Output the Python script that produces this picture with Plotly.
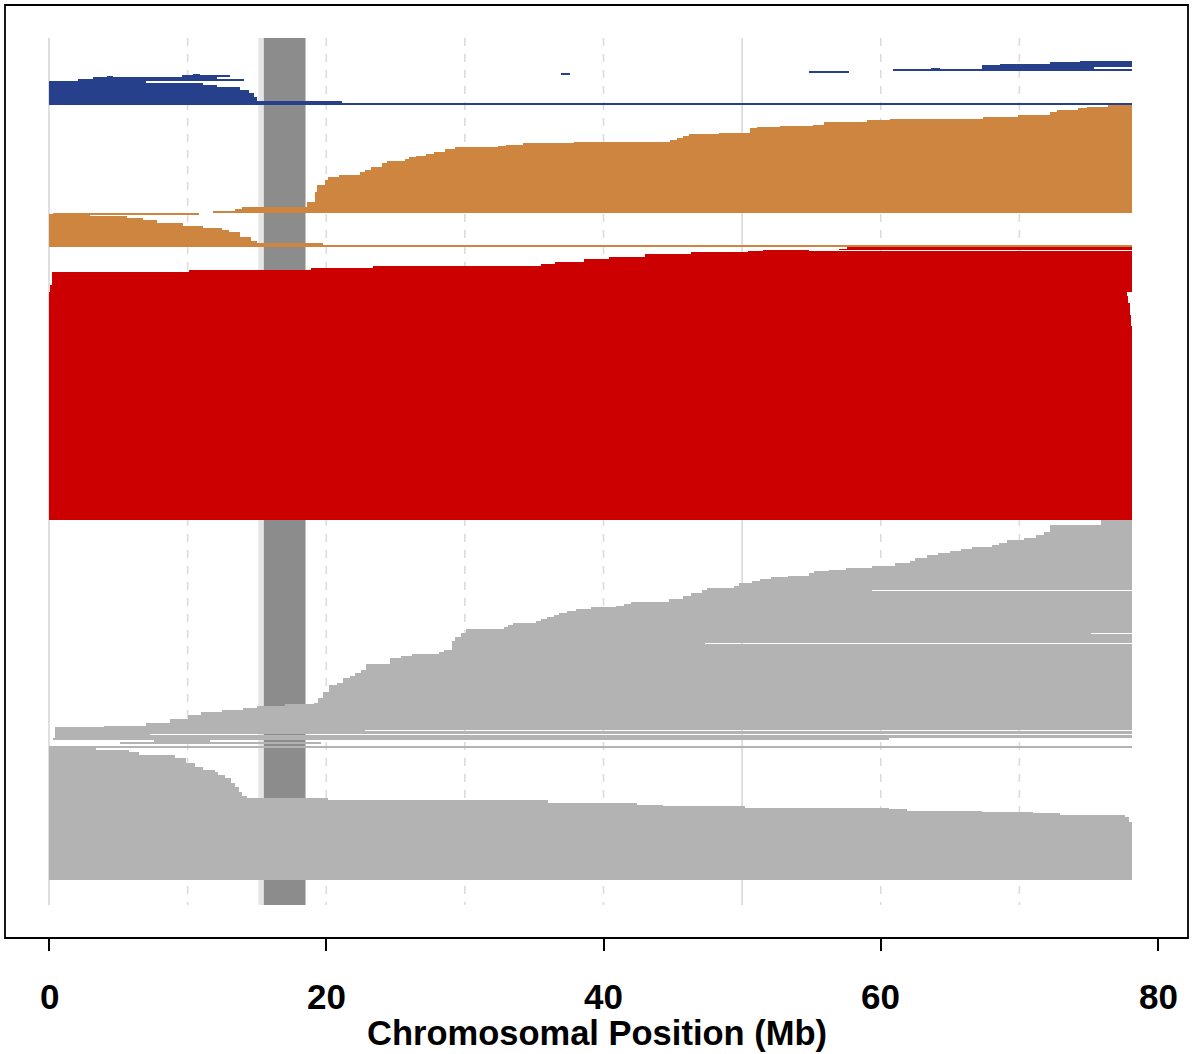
import plotly.graph_objects as go

# ---------------- data ----------------
CHR_END = 78.1
E = CHR_END

tick_vals = [0, 20, 40, 60, 80]
tick_text = ["0", "20", "40", "60", "80"]
x_title = "Chromosomal Position (Mb)"
grid_solid = [0, 50]
grid_dashed = [10, 20, 30, 40, 60, 70]
cen_pale = [15.1, 18.5]
cen_dark = [15.5, 18.5]
row_span = [-1, 866]

# blue haplotype rows (row index of top, rows spanned, start Mb, end Mb)
blue_row = [22.0, 23.3, 25.0, 26.6, 28.0, 29.6, 30.6, 32.5, 34.0, 35.4, 36.3, 37.6,
            38.4, 40.6, 42.2, 44.5, 46.0, 47.7, 51.0, 54.0, 58.0, 62.0, 63.5]
blue_n = [1.3, 1.7, 1.6, 1.4, 1.6, 1.0, 1.8, 1.5, 1.4, 0.9, 1.5, 0.8,
          1.6, 1.6, 2.3, 1.5, 1.7, 3.3, 3.0, 4.0, 4.0, 1.5, 2.0]
blue_start = [74.4, 72.2, 68.6, 67.3, 67.3, 63.6, 60.85, 54.8, 36.9, 10.4, 9.56, 4.2,
              3.15, 2.06, 0.0, 0.0, 0.0, 0.0, 0.0, 0.0, 0.0, 0.0, 0.0]
blue_end = [E, E, E, E, 75.4, 64.3, E, 57.7, 37.6, 10.9, 13.08, 4.6,
            12.1, 14.04, 7.0, 11.1, 12.1, 13.8, 14.4, 14.8, 15.0, 21.1, E]

# orange rows running to the chromosome end
orange_hi_row = [66.0, 68.3, 69.3, 71.7, 73.3, 76.0, 78.7, 80.0, 81.0, 83.3, 86.0, 87.0,
                 88.3, 89.3, 94.3, 95.3, 96.7, 98.7, 101.0, 103.0, 104.3, 106.0, 107.0, 108.7,
                 110.3, 113.3, 115.3, 117.0, 118.7, 120.3, 122.0, 124.3, 127.7, 131.0, 133.3, 136.0,
                 137.7, 141.0, 146.0, 153.3, 163.3, 168.3, 170.7, 172.0]
orange_hi_bottom = 174.0
orange_hi_start = [76.4, 74.85, 74.25, 72.7, 72.2, 69.9, 67.4, 60.7, 59.0, 55.9, 55.1, 52.7,
                   51.05, 50.6, 48.3, 46.2, 45.7, 45.3, 44.8, 37.9, 34.2, 33.0, 32.4, 29.3,
                   28.6, 27.8, 27.2, 26.5, 26.0, 25.7, 24.4, 24.0, 23.2, 22.8, 22.4, 20.9,
                   20.1, 19.9, 19.3, 19.2, 18.6, 13.9, 13.4, 11.85]

# orange rows starting at the chromosome start
orange_lo_row = [174.0, 175.6, 176.7, 179.3, 181.0, 184.3, 186.7, 188.7, 191.0, 193.3, 197.7, 202.7, 204.3, 206.0]
orange_lo_bottom = 208.3
orange_lo_start = [0.3, 0.0, 0.0, 0.0, 0.0, 0.0, 0.0, 0.0, 0.0, 0.0, 0.0, 0.0, 0.0, 0.0]
orange_lo_end = [10.8, 2.96, 5.6, 6.8, 7.8, 9.7, 11.1, 12.5, 13.0, 13.8, 14.6, 15.0, 19.8, E]

# red rows
red_row = [208.3, 210.0, 211.0, 211.7, 213.7, 215.3, 217.7, 220.3, 222.7, 225.0,
           227.0, 229.3, 231.7, 232.7, 246.0, 252.7, 257.0, 264.0, 276.0, 287.0]
red_bottom = 481.0
red_start = [57.6, 57.0, 51.5, 50.4, 46.3, 43.0, 40.4, 38.6, 36.5, 35.5,
             23.4, 18.9, 10.1, 0.2, 0.1, 0.0, 0.0, 0.0, 0.0, 0.0]
red_end = [E, E, 54.8, E, E, E, E, E, E, E,
           E, E, E, E, E, 77.75, 77.85, 77.95, 78.05, E]

# grey rows running to the chromosome end
gray_hi_row = [481.0, 486.0, 492.7, 496.0, 499.3, 501.0, 503.7, 506.0, 508.3, 510.3,
               512.7, 514.3, 516.0, 519.3, 521.7, 524.3, 527.0, 529.3, 531.0, 532.7,
               534.3, 536.7, 538.7, 540.3, 541.7, 544.3, 547.7, 549.0, 551.0, 552.0,
               554.3, 557.0, 558.3, 559.3, 560.3, 562.7, 565.0, 567.0, 568.7, 570.3,
               572.0, 574.3, 576.0, 578.3, 580.3, 582.7, 584.3, 586.0, 588.3, 590.3,
               594.3, 595.3, 597.7, 602.7, 604.3, 605.3, 611.0, 613.7, 615.0, 616.3,
               617.3, 619.3, 625.0, 626.3, 627.3, 631.0, 634.3, 637.7, 639.3, 640.3,
               641.3, 644.3, 646.0, 652.7, 659.3, 664.3, 665.3, 667.0, 669.0, 671.0,
               672.3, 673.3, 676.0, 680.0, 681.3, 682.3, 684.3, 687.0, 688.3, 691.0,
               692.0, 695.0, 696.0]
gray_hi_bottom = 698.5
gray_hi_start = [75.9, 72.2, 71.8, 71.2, 70.3, 69.1, 68.5, 68.0, 66.6, 65.8,
                 65.0, 64.1, 63.3, 62.5, 62.1, 61.0, 59.4, 57.5, 56.3, 55.2,
                 54.8, 53.3, 52.1, 51.3, 50.7, 49.8, 49.4, 47.5, 47.1, 47.1,
                 46.3, 45.7, 45.7, 45.7, 44.7, 42.0, 41.5, 40.9, 39.1, 38.0,
                 37.4, 36.8, 36.4, 35.9, 35.5, 35.1, 33.5, 33.1, 32.8, 30.1,
                 29.7, 29.7, 29.3, 29.1, 29.1, 29.1, 28.5, 28.1, 26.2, 26.2,
                 25.4, 24.6, 22.9, 22.9, 22.9, 22.5, 22.1, 21.7, 21.2, 21.2,
                 21.2, 20.8, 20.2, 19.8, 19.4, 19.1, 17.0, 15.0, 14.0, 12.5,
                 12.5, 11.0, 10.0, 8.7, 8.7, 8.7, 7.0, 4.0, 0.4, 0.4,
                 0.4, 0.4, 0.4]
gray_hi_end = [E, E, E, E, E, E, E, E, E, E,
               E, E, E, E, E, E, E, E, E, E,
               E, E, E, E, E, E, E, E, 59.4, E,
               E, E, 47.3, E, E, E, E, E, E, E,
               E, E, E, E, E, E, E, E, E, E,
               75.2, E, E, E, 47.3, E, E, E, E, 67.0,
               E, E, E, 32.8, E, E, E, E, E, 56.7,
               E, E, E, E, E, E, E, E, E, E,
               19.0, E, E, E, 55.4, E, E, E, E, 22.8,
               E, 7.3, E]

# grey rows between the two grey blocks
gray_mid_row = [698.5, 701.0, 703.7, 707.0]
gray_mid_n = [2.0, 1.3, 1.6, 2.3]
gray_mid_start = [0.3, 7.6, 5.1, 0.0]
gray_mid_end = [60.6, 11.6, 19.6, E]

# grey rows starting at the chromosome start
gray_lo_row = [709.3, 711.0, 713.3, 716.0, 719.3, 724.3, 727.7, 731.0, 733.3, 736.0,
               739.3, 744.3, 747.7, 752.7, 757.7, 759.3, 761.0, 763.7, 766.7, 767.7,
               769.3, 770.3, 772.0, 773.3, 774.7, 776.0, 778.0, 783.0]
gray_lo_bottom = 840.5
gray_lo_start = [0.0, 0.0, 0.0, 0.0, 0.0, 0.0, 0.0, 0.0, 0.0, 0.0,
                 0.0, 0.0, 0.0, 0.0, 0.0, 0.0, 0.0, 0.0, 0.0, 0.0,
                 0.0, 0.0, 0.0, 0.0, 0.0, 0.0, 0.0, 0.0]
gray_lo_end = [3.4, 5.8, 6.5, 9.1, 9.9, 10.5, 11.1, 12.0, 12.2, 12.7,
               13.1, 13.4, 13.7, 13.9, 14.3, 20.1, 36.0, 42.45, 44.3, 50.2,
               60.6, 61.9, 67.3, 71.0, 72.9, 77.65, 77.9, E]

# ---------------- styling ----------------
BLUE = "#27408B"
ORANGE = "#CD853F"
RED = "#CC0000"
GRAY = "#B3B3B3"
CEN_DARK = "#8C8C8C"
CEN_PALE = "#E5E5E5"
GRID = "#DCDCDC"
FONT = "Liberation Sans"


def spans(rows, bottom):
    edges = list(rows) + [bottom]
    return [edges[i + 1] - edges[i] for i in range(len(rows))]


def hbar(rows, ns, starts, ends, color):
    return go.Bar(
        orientation="h",
        y=[r + n / 2 for r, n in zip(rows, ns)],
        x=[e - s for s, e in zip(starts, ends)],
        base=starts,
        width=ns,
        marker=dict(color=color, line=dict(width=0)),
        hoverinfo="skip",
        showlegend=False,
    )


fig = go.Figure()

fig.add_trace(hbar(blue_row, blue_n, blue_start, blue_end, BLUE))
fig.add_trace(hbar(orange_hi_row, spans(orange_hi_row, orange_hi_bottom), orange_hi_start,
                   [CHR_END for _ in orange_hi_row], ORANGE))
fig.add_trace(hbar(orange_lo_row, spans(orange_lo_row, orange_lo_bottom), orange_lo_start,
                   orange_lo_end, ORANGE))
fig.add_trace(hbar(red_row, spans(red_row, red_bottom), red_start, red_end, RED))
fig.add_trace(hbar(gray_hi_row, spans(gray_hi_row, gray_hi_bottom), gray_hi_start, gray_hi_end, GRAY))
fig.add_trace(hbar(gray_mid_row, gray_mid_n, gray_mid_start, gray_mid_end, GRAY))
fig.add_trace(hbar(gray_lo_row, spans(gray_lo_row, gray_lo_bottom), gray_lo_start, gray_lo_end, GRAY))

# background shapes: grid lines then centromere, all beneath the rows
shapes = []
for g in grid_solid:
    shapes.append(dict(type="line", xref="x", yref="y", x0=g, x1=g, y0=row_span[0], y1=row_span[1],
                       line=dict(color=GRID, width=1.8), layer="below"))
for g in grid_dashed:
    shapes.append(dict(type="line", xref="x", yref="y", x0=g, x1=g, y0=row_span[0], y1=row_span[1],
                       line=dict(color=GRID, width=1.6, dash="8px,8px"), layer="below"))
shapes.append(dict(type="rect", xref="x", yref="y", x0=cen_pale[0], x1=cen_pale[1],
                   y0=row_span[0], y1=row_span[1], fillcolor=CEN_PALE, line=dict(width=0), layer="below"))
shapes.append(dict(type="rect", xref="x", yref="y", x0=cen_dark[0], x1=cen_dark[1],
                   y0=row_span[0], y1=row_span[1], fillcolor=CEN_DARK, line=dict(width=0), layer="below"))
shapes.append(dict(type="rect", xref="paper", yref="paper", x0=0, y0=0, x1=1, y1=1,
                   line=dict(color="black", width=1.8), fillcolor="rgba(0,0,0,0)", layer="above"))

# tick labels and axis title
annotations = []
for v, t in zip(tick_vals, tick_text):
    annotations.append(dict(x=v, xref="x", y=-0.0632, yref="paper", text=t, showarrow=False,
                            xanchor="center", yanchor="middle",
                            font=dict(family=FONT, size=35, color="black", weight="bold")))
annotations.append(dict(x=0.5, xref="paper", y=-0.1018, yref="paper", text=x_title, showarrow=False,
                        xanchor="center", yanchor="middle",
                        font=dict(family=FONT, size=34.5, color="black", weight="bold")))

fig.update_layout(
    width=1195, height=1054,
    margin=dict(l=5, r=7, t=5, b=116, pad=0),
    paper_bgcolor="white", plot_bgcolor="white",
    barmode="overlay", bargap=0, bargroupgap=0,
    showlegend=False,
    annotations=annotations,
    shapes=shapes,
    xaxis=dict(range=[-3.174, 82.164], tickvals=tick_vals, ticktext=tick_text,
               showticklabels=False, ticks="outside", ticklen=12, tickwidth=1.8,
               tickcolor="black", showgrid=False, zeroline=False, showline=False, fixedrange=True),
    yaxis=dict(range=[899, -34], visible=False, showgrid=False, zeroline=False, fixedrange=True),
)

fig.write_html("out.html")
